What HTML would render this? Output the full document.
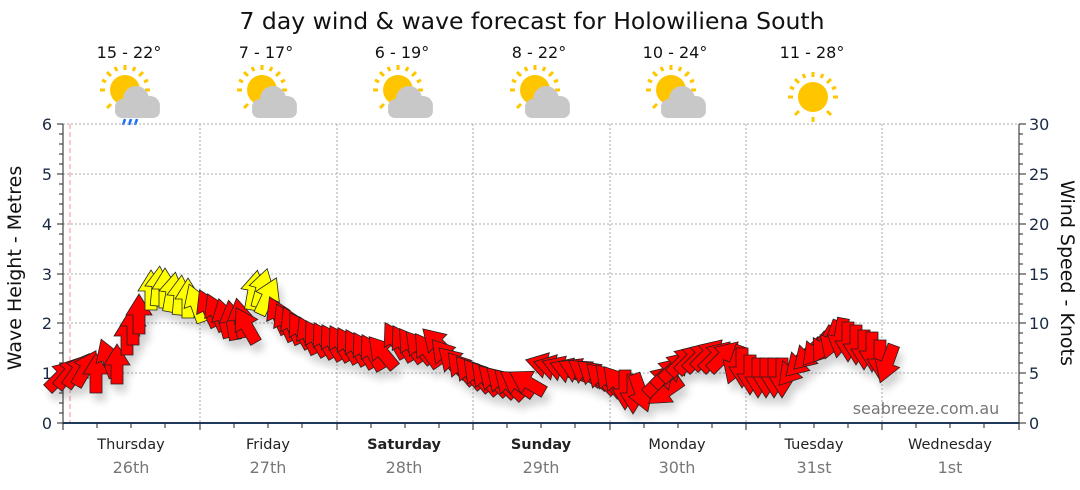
<!DOCTYPE html>
<html><head><meta charset="utf-8"><style>
html,body{margin:0;padding:0;background:#fff}
svg{display:block;font-family:"DejaVu Sans","Liberation Sans",sans-serif}
</style></head><body>
<svg width="1080" height="490" viewBox="0 0 1080 490" xmlns="http://www.w3.org/2000/svg">
<defs>
<polygon id="a" points="-6,20 6,20 6,1 13,1 0,-20 -13,1 -6,1" stroke="#222" stroke-width="0.8" stroke-linejoin="miter"/>
<filter id="sh" x="-20%" y="-20%" width="140%" height="160%"><feGaussianBlur in="SourceAlpha" stdDeviation="4"/><feOffset dx="4" dy="8"/><feComponentTransfer><feFuncA type="linear" slope="0.18"/></feComponentTransfer><feMerge><feMergeNode/><feMergeNode in="SourceGraphic"/></feMerge></filter>
<g id="sun">
<g stroke="#ffc600" stroke-width="3">
<line x1="0" y1="-20" x2="0" y2="-25"/><line x1="0" y1="20" x2="0" y2="25"/><line x1="-20" y1="0" x2="-25" y2="0"/><line x1="20" y1="0" x2="25" y2="0"/>
<line x1="14" y1="-14" x2="18" y2="-18"/><line x1="-14" y1="-14" x2="-18" y2="-18"/><line x1="14" y1="14" x2="18" y2="18"/><line x1="-14" y1="14" x2="-18" y2="18"/>
<line x1="8" y1="-19" x2="10" y2="-23"/><line x1="-8" y1="-19" x2="-10" y2="-23"/><line x1="19" y1="-8" x2="23" y2="-10"/><line x1="-19" y1="-8" x2="-23" y2="-10"/>
</g>
<circle r="15" fill="#ffc600"/>
</g>
<g id="pc">
<use href="#sun" x="-6" y="-6"/>
<g fill="#c8c8c8"><circle cx="5" cy="3" r="13"/><circle cx="19" cy="10" r="10"/><circle cx="-8" cy="11" r="8"/><rect x="-16" y="8" width="45" height="14" rx="7"/></g>
</g>
</defs>
<text x="532" y="29" font-size="23.5" text-anchor="middle" fill="#111">7 day wind &amp; wave forecast for Holowiliena South</text>
<g font-size="16" text-anchor="middle" fill="#111">
<text x="129" y="58">15 - 22°</text><text x="266" y="58">7 - 17°</text><text x="402" y="58">6 - 19°</text><text x="539" y="58">8 - 22°</text><text x="675" y="58">10 - 24°</text><text x="812" y="58">11 - 28°</text>
</g>
<use href="#pc" x="131" y="96"/>
<g stroke="#1a6fff" stroke-width="2.5"><line x1="125" y1="119" x2="123" y2="125"/><line x1="131" y1="119" x2="129" y2="125"/><line x1="137" y1="119" x2="135" y2="125"/></g>
<use href="#pc" x="268" y="96"/><use href="#pc" x="404" y="96"/><use href="#pc" x="541" y="96"/><use href="#pc" x="677" y="96"/>
<use href="#sun" x="813" y="97"/>
<g stroke="#aaa" stroke-width="1" stroke-dasharray="2,2">
<line x1="63" y1="124" x2="1019" y2="124"/><line x1="63" y1="174" x2="1019" y2="174"/><line x1="63" y1="224" x2="1019" y2="224"/><line x1="63" y1="274" x2="1019" y2="274"/><line x1="63" y1="323" x2="1019" y2="323"/><line x1="63" y1="373" x2="1019" y2="373"/>
<line x1="200" y1="124" x2="200" y2="423"/><line x1="337" y1="124" x2="337" y2="423"/><line x1="473" y1="124" x2="473" y2="423"/><line x1="610" y1="124" x2="610" y2="423"/><line x1="746" y1="124" x2="746" y2="423"/><line x1="882" y1="124" x2="882" y2="423"/>
</g>
<line x1="70" y1="124" x2="70" y2="423" stroke="#f88" stroke-dasharray="5,3"/>
<g stroke="#222" stroke-width="1">
<line x1="63" y1="124" x2="63" y2="423"/><line x1="1019" y1="124" x2="1019" y2="423"/>
<path d="M57 124H63M57 174H63M57 224H63M57 274H63M57 323H63M57 373H63M57 423H63M59 134H63M59 144H63M59 154H63M59 164H63M59 184H63M59 194H63M59 204H63M59 214H63M59 234H63M59 244H63M59 254H63M59 264H63M59 284H63M59 294H63M59 304H63M59 314H63M59 333H63M59 343H63M59 353H63M59 363H63M59 383H63M59 393H63M59 403H63M59 413H63"/>
<path d="M1019 124H1026M1019 174H1026M1019 224H1026M1019 274H1026M1019 323H1026M1019 373H1026M1019 423H1026M1019 134H1023M1019 144H1023M1019 154H1023M1019 164H1023M1019 184H1023M1019 194H1023M1019 204H1023M1019 214H1023M1019 234H1023M1019 244H1023M1019 254H1023M1019 264H1023M1019 284H1023M1019 294H1023M1019 304H1023M1019 314H1023M1019 333H1023M1019 343H1023M1019 353H1023M1019 363H1023M1019 383H1023M1019 393H1023M1019 403H1023M1019 413H1023"/>
</g>
<line x1="63" y1="423" x2="1019" y2="423" stroke="#1f3a5a" stroke-width="2"/>
<path stroke="#222" d="M63 423V430M97 423V428M131 423V428M165 423V428M200 423V430M234 423V428M268 423V428M302 423V428M337 423V430M371 423V428M405 423V428M439 423V428M473 423V430M507 423V428M541 423V428M575 423V428M610 423V430M644 423V428M678 423V428M712 423V428M746 423V430M780 423V428M814 423V428M848 423V428M882 423V430M916 423V428M950 423V428M984 423V428M1019 423V430"/>
<g font-size="16" fill="#1a2a44" text-anchor="end">
<text x="52" y="130">6</text><text x="52" y="180">5</text><text x="52" y="230">4</text><text x="52" y="280">3</text><text x="52" y="329">2</text><text x="52" y="379">1</text><text x="52" y="429">0</text>
</g>
<g font-size="16" fill="#1a2a44">
<text x="1029" y="130">30</text><text x="1029" y="180">25</text><text x="1029" y="230">20</text><text x="1029" y="280">15</text><text x="1029" y="329">10</text><text x="1029" y="379">5</text><text x="1029" y="429">0</text>
</g>
<text transform="translate(21,268) rotate(-90)" font-size="19" text-anchor="middle" fill="#111">Wave Height - Metres</text>
<text transform="translate(1061,273) rotate(90)" font-size="19" text-anchor="middle" fill="#111">Wind Speed - Knots</text>
<g font-size="14.5" text-anchor="middle" fill="#222">
<text x="131" y="449">Thursday</text><text x="268" y="449">Friday</text><text x="404" y="449" font-weight="bold">Saturday</text><text x="541" y="449" font-weight="bold">Sunday</text><text x="677" y="449">Monday</text><text x="814" y="449">Tuesday</text><text x="950" y="449">Wednesday</text>
</g>
<g font-size="16" text-anchor="middle" fill="#777">
<text x="131" y="473">26th</text><text x="268" y="473">27th</text><text x="404" y="473">28th</text><text x="541" y="473">29th</text><text x="677" y="473">30th</text><text x="814" y="473">31st</text><text x="950" y="473">1st</text>
</g>
<text x="926" y="414" font-size="16" text-anchor="middle" fill="#777">seabreeze.com.au</text>
<g filter="url(#sh)">
<g fill="#ff0000">
<use href="#a" transform="translate(62,375) rotate(45)"/><use href="#a" transform="translate(70,372) rotate(40)"/><use href="#a" transform="translate(78,370) rotate(35)"/><use href="#a" transform="translate(86,368) rotate(30)"/><use href="#a" transform="translate(96,373) rotate(0)"/><use href="#a" transform="translate(108,358) rotate(-20)"/><use href="#a" transform="translate(117,364) rotate(0)"/><use href="#a" transform="translate(127,335) rotate(0)"/><use href="#a" transform="translate(133,325) rotate(0)"/><use href="#a" transform="translate(139,314) rotate(0)"/>
</g>
<g fill="#ffff00">
<use href="#a" transform="translate(151,290) rotate(0)"/><use href="#a" transform="translate(158,286) rotate(5)"/><use href="#a" transform="translate(165,288) rotate(0)"/><use href="#a" transform="translate(172,292) rotate(10)"/><use href="#a" transform="translate(180,295) rotate(5)"/><use href="#a" transform="translate(188,298) rotate(0)"/><use href="#a" transform="translate(196,303) rotate(-20)"/>
</g>
<g fill="#ff0000">
<use href="#a" transform="translate(208,308) rotate(-25)"/><use href="#a" transform="translate(216,312) rotate(-25)"/><use href="#a" transform="translate(224,318) rotate(-15)"/><use href="#a" transform="translate(232,320) rotate(-10)"/><use href="#a" transform="translate(240,318) rotate(-10)"/><use href="#a" transform="translate(246,325) rotate(-30)"/>
</g>
<g fill="#ffff00">
<use href="#a" transform="translate(254,290) rotate(10)"/><use href="#a" transform="translate(262,288) rotate(15)"/><use href="#a" transform="translate(268,296) rotate(25)"/>
</g>
<g fill="#ff0000">
<use href="#a" transform="translate(278,315) rotate(-25)"/><use href="#a" transform="translate(285,322) rotate(-25)"/><use href="#a" transform="translate(292,325) rotate(-25)"/><use href="#a" transform="translate(300,330) rotate(-30)"/><use href="#a" transform="translate(308,335) rotate(-25)"/><use href="#a" transform="translate(316,338) rotate(-30)"/><use href="#a" transform="translate(324,340) rotate(-30)"/><use href="#a" transform="translate(332,342) rotate(-30)"/><use href="#a" transform="translate(340,343) rotate(-30)"/><use href="#a" transform="translate(348,345) rotate(-30)"/><use href="#a" transform="translate(356,347) rotate(-30)"/><use href="#a" transform="translate(364,350) rotate(-30)"/><use href="#a" transform="translate(372,352) rotate(-30)"/><use href="#a" transform="translate(382,352) rotate(-40)"/>
<use href="#a" transform="translate(395,340) rotate(-30)"/><use href="#a" transform="translate(403,343) rotate(-30)"/><use href="#a" transform="translate(411,345) rotate(-35)"/><use href="#a" transform="translate(419,347) rotate(-40)"/><use href="#a" transform="translate(427,350) rotate(-35)"/><use href="#a" transform="translate(437,343) rotate(-45)"/><use href="#a" transform="translate(445,355) rotate(-40)"/><use href="#a" transform="translate(453,362) rotate(-45)"/><use href="#a" transform="translate(461,368) rotate(-40)"/><use href="#a" transform="translate(469,372) rotate(-40)"/><use href="#a" transform="translate(477,375) rotate(-40)"/><use href="#a" transform="translate(485,378) rotate(-40)"/><use href="#a" transform="translate(493,380) rotate(-45)"/><use href="#a" transform="translate(501,382) rotate(-45)"/><use href="#a" transform="translate(509,384) rotate(-45)"/><use href="#a" transform="translate(517,383) rotate(-55)"/><use href="#a" transform="translate(527,382) rotate(-60)"/>
<use href="#a" transform="translate(545,365) rotate(-75)"/><use href="#a" transform="translate(553,367) rotate(-75)"/><use href="#a" transform="translate(561,368) rotate(-70)"/><use href="#a" transform="translate(569,370) rotate(-70)"/><use href="#a" transform="translate(577,370) rotate(-65)"/><use href="#a" transform="translate(585,372) rotate(-55)"/><use href="#a" transform="translate(593,374) rotate(-50)"/><use href="#a" transform="translate(601,378) rotate(-45)"/><use href="#a" transform="translate(609,380) rotate(-40)"/><use href="#a" transform="translate(617,382) rotate(-40)"/><use href="#a" transform="translate(625,390) rotate(180)"/><use href="#a" transform="translate(633,394) rotate(180)"/><use href="#a" transform="translate(641,393) rotate(160)"/><use href="#a" transform="translate(665,392) rotate(235)"/>
<use href="#a" transform="translate(660,380) rotate(45)"/><use href="#a" transform="translate(668,372) rotate(45)"/><use href="#a" transform="translate(676,366) rotate(45)"/><use href="#a" transform="translate(684,360) rotate(45)"/><use href="#a" transform="translate(692,358) rotate(45)"/><use href="#a" transform="translate(700,356) rotate(45)"/><use href="#a" transform="translate(708,354) rotate(45)"/><use href="#a" transform="translate(716,356) rotate(45)"/><use href="#a" transform="translate(724,356) rotate(45)"/>
<use href="#a" transform="translate(735,365) rotate(200)"/><use href="#a" transform="translate(742,368) rotate(180)"/><use href="#a" transform="translate(750,375) rotate(180)"/><use href="#a" transform="translate(758,378) rotate(180)"/><use href="#a" transform="translate(766,378) rotate(180)"/><use href="#a" transform="translate(774,378) rotate(180)"/><use href="#a" transform="translate(782,378) rotate(180)"/>
<use href="#a" transform="translate(792,370) rotate(220)"/><use href="#a" transform="translate(800,362) rotate(225)"/><use href="#a" transform="translate(808,355) rotate(225)"/><use href="#a" transform="translate(816,350) rotate(220)"/><use href="#a" transform="translate(824,345) rotate(210)"/><use href="#a" transform="translate(832,340) rotate(200)"/><use href="#a" transform="translate(840,338) rotate(190)"/>
<use href="#a" transform="translate(848,342) rotate(180)"/><use href="#a" transform="translate(856,345) rotate(180)"/><use href="#a" transform="translate(864,350) rotate(180)"/><use href="#a" transform="translate(872,352) rotate(180)"/><use href="#a" transform="translate(880,360) rotate(180)"/><use href="#a" transform="translate(887,364) rotate(200)"/>
</g>
</g>
</svg>
</body></html>
